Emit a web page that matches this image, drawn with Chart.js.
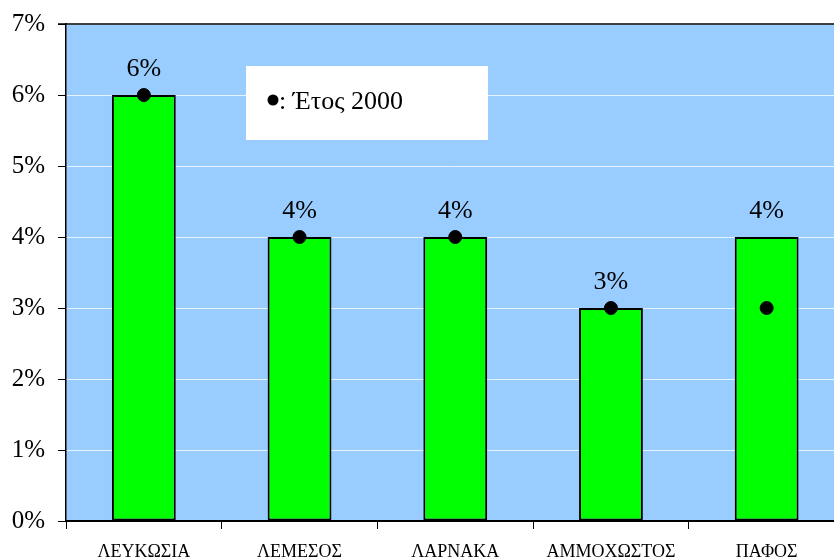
<!DOCTYPE html>
<html>
<head>
<meta charset="utf-8">
<script src="https://cdn.jsdelivr.net/npm/chart.js@4/dist/chart.umd.min.js"></script>
<style>
  html, body { margin: 0; padding: 0; background: #fff; overflow: hidden; }
  #wrap { width: 852px; height: 557px; }
</style>
</head>
<body>
<div id="wrap"><canvas id="chart" width="852" height="557"></canvas></div>
<script>
const categories = ['ΛΕΥΚΩΣΙΑ', 'ΛΕΜΕΣΟΣ', 'ΛΑΡΝΑΚΑ', 'ΑΜΜΟΧΩΣΤΟΣ', 'ΠΑΦΟΣ'];
const barValues = [6, 4, 4, 3, 4];
const year2000Values = [6, 4, 4, 3, 3];
const legendText = ': Έτος 2000';

const serif = "'Liberation Serif', 'Times New Roman', serif";

// plot background, top border, value labels and the legend box
const decorations = {
  id: 'decorations',
  beforeDraw(chart) {
    const { ctx, chartArea: a } = chart;
    ctx.save();
    ctx.fillStyle = '#99ccff';
    ctx.fillRect(a.left, a.top, a.right - a.left, a.bottom - a.top);
    ctx.restore();
  },
  afterDatasetsDraw(chart) {
    const { ctx, chartArea: a } = chart;
    ctx.save();
    ctx.strokeStyle = '#000';
    ctx.lineWidth = 1.5;
    ctx.beginPath();
    ctx.moveTo(a.left - 8, a.top);
    ctx.lineTo(a.right, a.top);
    ctx.stroke();

    // value labels above bars
    const meta = chart.getDatasetMeta(0);
    ctx.fillStyle = '#000';
    ctx.font = '26px ' + serif;
    ctx.textAlign = 'center';
    ctx.textBaseline = 'middle';
    meta.data.forEach((bar, i) => {
      ctx.fillText(barValues[i] + '%', bar.x, bar.y - 26);
    });

    // legend box
    const lx = a.left + 180, ly = a.top + 42;
    ctx.fillStyle = '#fff';
    ctx.fillRect(lx, ly, 242, 74);
    ctx.fillStyle = '#000';
    ctx.beginPath();
    ctx.arc(lx + 27, ly + 34, 5.5, 0, Math.PI * 2);
    ctx.fill();
    ctx.textAlign = 'left';
    ctx.font = '26px ' + serif;
    ctx.fillText(legendText, lx + 33, ly + 36);
    ctx.restore();
  }
};

new Chart(document.getElementById('chart'), {
  type: 'bar',
  data: {
    labels: categories,
    datasets: [{
      type: 'bar',
      data: barValues,
      backgroundColor: '#00ff00',
      borderColor: '#000',
      borderWidth: 2,
      borderSkipped: false,
      barPercentage: 0.41,
      categoryPercentage: 1,
      order: 2
    }, {
      type: 'line',
      data: year2000Values,
      showLine: false,
      pointRadius: 6.5,
      pointBackgroundColor: '#000',
      pointBorderColor: '#000',
      order: 1
    }]
  },
  options: {
    responsive: false,
    animation: false,
    layout: { padding: { top: 24, right: 0, left: 0, bottom: 0 } },
    plugins: { legend: { display: false }, tooltip: { enabled: false } },
    scales: {
      x: {
        afterFit: s => { s.height = 36; s.paddingLeft = 0; s.paddingRight = 0; },
        grid: { drawOnChartArea: false, offset: true, tickLength: 8, tickColor: '#000', lineWidth: 1 },
        border: { color: '#000', width: 2 },
        ticks: { color: '#000', font: { family: serif, size: 18 }, padding: 12, maxRotation: 0 }
      },
      y: {
        min: 0,
        max: 7,
        afterFit: s => { s.width = 66; s.paddingTop = 0; s.paddingBottom = 0; },
        grid: { color: 'rgba(255,255,255,0.75)', lineWidth: 1, tickLength: 8, tickColor: '#000' },
        border: { color: '#000', width: 1.5 },
        ticks: {
          stepSize: 1,
          color: '#000',
          padding: 13,
          font: { family: serif, size: 25 },
          callback: v => v + '%'
        }
      }
    }
  },
  plugins: [decorations]
});
</script>
</body>
</html>
